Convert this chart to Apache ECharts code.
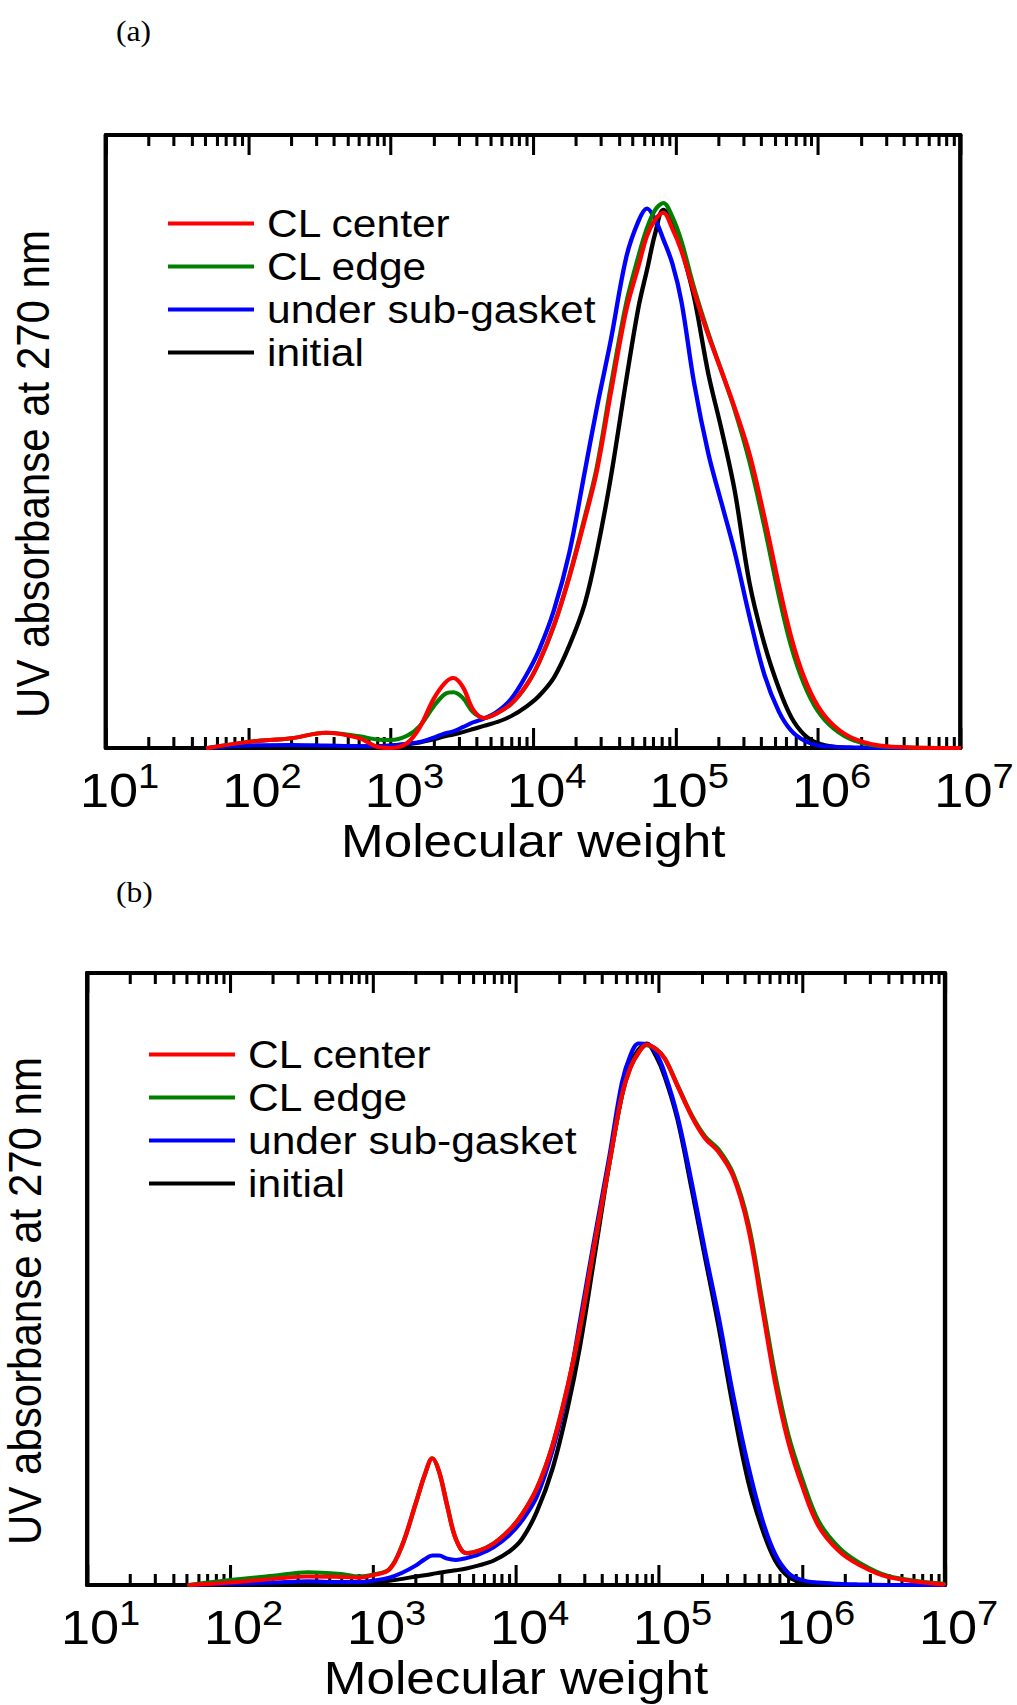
<!DOCTYPE html>
<html>
<head>
<meta charset="utf-8">
<title>UV absorbance vs molecular weight</title>
<script src="https://cdn.jsdelivr.net/npm/echarts@6/dist/echarts.min.js"></script>
<style>
  html, body { margin: 0; padding: 0; background: #ffffff; overflow: hidden; }
  /* the figure is drawn slightly narrower and widened to the page width,
     which gives the broad lettering of the printed plot */
  #chart { height: 1705px; transform-origin: 0 0; }
</style>
</head>
<body>
<div id="chart"></div>
<script>
// ---- data ----------------------------------------------------------------
const seriesNames = ['CL center', 'CL edge', 'under sub-gasket', 'initial'];
const seriesColors = ['#ff0000', '#008000', '#0000ff', '#000000'];
const xTitle = 'Molecular weight';
const yTitle = 'UV absorbanse at 270 nm';
const panelTags = ['(a)', '(b)'];
const decadeExponents = [1, 2, 3, 4, 5, 6, 7];
const minorMultipliers = [2, 3, 4, 5, 6, 7, 8, 9];

// panel (a): molecular weight samples and detector response
const mwA = [52, 100, 200, 350, 600, 800, 1000, 1300, 1600, 2000, 2400, 2750, 3200, 3800, 4500,
  5500, 7000, 9000, 11000, 14000, 18000, 23000, 28000, 35000, 45000, 55000, 63000, 72000, 82000,
  95000, 110000, 135000, 170000, 210000, 260000, 330000, 420000, 530000, 650000, 800000, 1000000,
  1300000, 1800000, 3000000, 9800000];
const centerA = [0, 0.010, 0.016, 0.025, 0.016, 0.002, 0.000, 0.008, 0.034, 0.080, 0.106, 0.114, 0.100,
  0.062, 0.049, 0.056, 0.072, 0.103, 0.140, 0.200, 0.280, 0.372, 0.452, 0.578, 0.714, 0.787, 0.836,
  0.862, 0.873, 0.847, 0.811, 0.744, 0.673, 0.615, 0.555, 0.480, 0.377, 0.267, 0.180, 0.115, 0.068,
  0.036, 0.015, 0.003, 0];
const edgeA = [0, 0.010, 0.016, 0.025, 0.019, 0.014, 0.013, 0.020, 0.036, 0.068, 0.088, 0.091, 0.082,
  0.058, 0.049, 0.056, 0.072, 0.103, 0.140, 0.200, 0.282, 0.376, 0.458, 0.588, 0.725, 0.803, 0.848,
  0.878, 0.889, 0.866, 0.826, 0.750, 0.676, 0.615, 0.552, 0.468, 0.362, 0.250, 0.165, 0.104, 0.060,
  0.031, 0.012, 0.002, 0];
const gasketA = [0, 0.004, 0.005, 0.004, 0.003, 0.003, 0.004, 0.007, 0.010, 0.017, 0.024, 0.027, 0.034,
  0.042, 0.048, 0.058, 0.080, 0.120, 0.160, 0.225, 0.320, 0.450, 0.555, 0.664, 0.800, 0.860, 0.880,
  0.862, 0.830, 0.790, 0.728, 0.595, 0.480, 0.400, 0.320, 0.215, 0.120, 0.060, 0.028, 0.012, 0.004,
  0.002, 0.001, 0, 0];
const initialA = [0, 0.002, 0.003, 0.003, 0.003, 0.003, 0.004, 0.006, 0.009, 0.014, 0.019, 0.022, 0.026,
  0.031, 0.036, 0.042, 0.052, 0.068, 0.085, 0.115, 0.168, 0.235, 0.320, 0.440, 0.600, 0.720, 0.780,
  0.840, 0.878, 0.860, 0.815, 0.735, 0.610, 0.520, 0.420, 0.270, 0.170, 0.098, 0.050, 0.022, 0.008,
  0.002, 0, 0, 0];

// panel (b)
const mwB = [52, 100, 200, 350, 600, 800, 1000, 1300, 1600, 2000, 2300, 2600, 2900, 3300, 3800, 4500,
  5500, 7000, 9000, 11000, 14000, 18000, 23000, 28000, 35000, 45000, 55000, 63000, 72000, 82000,
  95000, 110000, 135000, 170000, 210000, 260000, 330000, 420000, 530000, 650000, 800000, 1000000,
  1300000, 1800000, 2500000, 4000000, 9800000];
const centerB = [0, 0.004, 0.010, 0.014, 0.013, 0.012, 0.016, 0.025, 0.065, 0.135, 0.180, 0.207, 0.185,
  0.130, 0.075, 0.052, 0.056, 0.068, 0.090, 0.115, 0.158, 0.228, 0.325, 0.420, 0.550, 0.690, 0.800,
  0.845, 0.870, 0.883, 0.876, 0.860, 0.815, 0.765, 0.730, 0.708, 0.668, 0.585, 0.450, 0.330, 0.235,
  0.163, 0.097, 0.056, 0.033, 0.013, 0.001];
const edgeB = [0, 0.008, 0.015, 0.021, 0.018, 0.014, 0.017, 0.026, 0.065, 0.135, 0.180, 0.207, 0.185,
  0.130, 0.075, 0.052, 0.056, 0.068, 0.090, 0.115, 0.158, 0.228, 0.325, 0.420, 0.550, 0.690, 0.800,
  0.845, 0.870, 0.882, 0.876, 0.860, 0.816, 0.767, 0.733, 0.712, 0.672, 0.592, 0.460, 0.342, 0.246,
  0.174, 0.105, 0.062, 0.037, 0.015, 0.002];
const gasketB = [0, 0.002, 0.004, 0.006, 0.005, 0.005, 0.007, 0.012, 0.020, 0.032, 0.042, 0.048, 0.048,
  0.043, 0.041, 0.044, 0.050, 0.062, 0.082, 0.105, 0.145, 0.220, 0.320, 0.430, 0.560, 0.700, 0.820,
  0.865, 0.885, 0.884, 0.870, 0.835, 0.765, 0.655, 0.545, 0.440, 0.310, 0.195, 0.105, 0.050, 0.020,
  0.008, 0.004, 0.002, 0.001, 0, 0];
const initialB = [0, 0.001, 0.002, 0.003, 0.003, 0.004, 0.004, 0.007, 0.010, 0.014, 0.016, 0.018, 0.020,
  0.022, 0.024, 0.027, 0.032, 0.040, 0.055, 0.075, 0.120, 0.190, 0.290, 0.390, 0.530, 0.690, 0.800,
  0.850, 0.875, 0.885, 0.865, 0.830, 0.760, 0.645, 0.535, 0.425, 0.290, 0.170, 0.090, 0.040, 0.014,
  0.004, 0.001, 0, 0, 0, 0];

// ---- layout ----------------------------------------------------------------
const PAGE_W = 1017;
const S = 1.09;                       // horizontal widening of the drawing
const sx = function (v) { return v / S; };   // page x -> drawing x
const chartEl = document.getElementById('chart');
chartEl.style.width = (PAGE_W / S) + 'px';
chartEl.style.transform = 'scaleX(' + S + ')';

const FONT = '"Liberation Sans", Arial, Helvetica, sans-serif';
const panels = [
  {
    mw: mwA, values: [centerA, edgeA, gasketA, initialA],
    grid: { left: sx(106), top: 135, width: sx(859), height: 613 },
    legend: { left: sx(168), top: 202 },
    yTitlePos: [sx(33), 474], tagPos: [sx(116), 31]
  },
  {
    mw: mwB, values: [centerB, edgeB, gasketB, initialB],
    grid: { left: sx(87), top: 973, width: sx(858), height: 612 },
    legend: { left: sx(149), top: 1033 },
    yTitlePos: [sx(25), 1301], tagPos: [sx(116), 892]
  }
];

// minor ticks at 2..9 within every decade, in log10 units
const minorTicks = [];
decadeExponents.slice(0, -1).forEach(function (e) {
  minorMultipliers.forEach(function (m) { minorTicks.push(e + Math.log10(m)); });
});

const black = '#000000';
const frameW = 4;
const tickW = 2.8;

function decadeLabel(v) {
  return '{b|10}{s|' + Math.round(v) + '}';
}

const grids = [], xAxes = [], yAxes = [], series = [], legends = [], graphics = [];

panels.forEach(function (p, gi) {
  grids.push(Object.assign({ containLabel: false }, p.grid));

  const base = {
    gridIndex: gi, type: 'value', min: 1, max: 7,
    splitLine: { show: false }
  };
  // bottom: decades with labels
  xAxes.push(Object.assign({}, base, {
    position: 'bottom', interval: 1,
    axisLine: { show: true, onZero: false, lineStyle: { color: black, width: frameW } },
    axisTick: { show: true, inside: true, length: 20, lineStyle: { color: black, width: tickW } },
    axisLabel: {
      show: true, margin: 11, formatter: decadeLabel, color: black,
      rich: {
        b: { fontFamily: FONT, fontSize: 48, color: black, lineHeight: 64, padding: [0, 0, 0, 25] },
        s: { fontFamily: FONT, fontSize: 35, color: black, lineHeight: 35, verticalAlign: 'top' }
      }
    },
    name: xTitle, nameLocation: 'middle', nameGap: 69,
    nameTextStyle: { fontFamily: FONT, fontSize: 47, color: black, lineHeight: 47 }
  }));
  // bottom: minor ticks
  xAxes.push(Object.assign({}, base, {
    position: 'bottom',
    axisLine: { show: false, onZero: false },
    axisTick: { show: true, inside: true, length: 11, customValues: minorTicks,
      lineStyle: { color: black, width: tickW } },
    axisLabel: { show: false }
  }));
  // top frame: decades
  xAxes.push(Object.assign({}, base, {
    position: 'top', interval: 1,
    axisLine: { show: true, onZero: false, lineStyle: { color: black, width: frameW } },
    axisTick: { show: true, inside: true, length: 20, lineStyle: { color: black, width: tickW } },
    axisLabel: { show: false }
  }));
  // top frame: minor ticks
  xAxes.push(Object.assign({}, base, {
    position: 'top',
    axisLine: { show: false, onZero: false },
    axisTick: { show: true, inside: true, length: 11, customValues: minorTicks,
      lineStyle: { color: black, width: tickW } },
    axisLabel: { show: false }
  }));

  ['left', 'right'].forEach(function (pos) {
    yAxes.push({
      gridIndex: gi, type: 'value', min: 0, max: 1, position: pos,
      axisLine: { show: true, onZero: false, lineStyle: { color: black, width: frameW } },
      axisTick: { show: false }, axisLabel: { show: false }, splitLine: { show: false }
    });
  });

  // draw the initial trace first so that CL center ends up on top
  [3, 2, 1, 0].forEach(function (si) {
    series.push({
      name: seriesNames[si], type: 'line',
      xAxisIndex: gi * 4, yAxisIndex: gi * 2,
      data: p.mw.map(function (m, i) { return [Math.log10(m), p.values[si][i]]; }),
      smooth: 0.35, showSymbol: false, symbol: 'none', clip: false,
      lineStyle: { color: seriesColors[si], width: 4, cap: 'round', join: 'round' },
      itemStyle: { color: seriesColors[si] },
      emphasis: { disabled: true }
    });
  });

  legends.push({
    data: seriesNames, orient: 'vertical',
    left: p.legend.left, top: p.legend.top, padding: 0,
    icon: 'rect', itemWidth: sx(86), itemHeight: 4, itemGap: 0,
    itemStyle: { borderWidth: 0 },
    textStyle: { fontFamily: FONT, fontSize: 39, color: black, lineHeight: 35, padding: [8, 0, 0, 7] },
    selectedMode: false
  });

  graphics.push({
    type: 'text', x: p.yTitlePos[0], y: p.yTitlePos[1], rotation: Math.PI / 2,
    style: {
      text: yTitle, font: '42px ' + FONT, fill: black,
      align: 'center', verticalAlign: 'middle', textAlign: 'center', textVerticalAlign: 'middle'
    }
  });
  graphics.push({
    type: 'text', x: p.tagPos[0], y: p.tagPos[1],
    style: {
      text: panelTags[gi], font: '29px "Liberation Serif", "Times New Roman", serif', fill: black,
      align: 'left', verticalAlign: 'middle', textAlign: 'left', textVerticalAlign: 'middle'
    }
  });
});

const chart = echarts.init(chartEl, null, { renderer: 'svg' });
chart.setOption({
  backgroundColor: '#ffffff',
  animation: false,
  textStyle: { fontFamily: FONT },
  grid: grids,
  xAxis: xAxes,
  yAxis: yAxes,
  legend: legends,
  series: series,
  graphic: graphics
});
</script>
</body>
</html>
